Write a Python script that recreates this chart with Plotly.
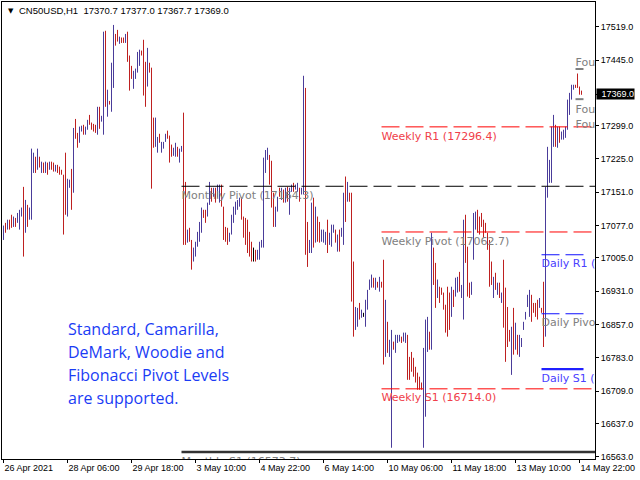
import numpy as np
import plotly.graph_objects as go

# ---------------- data ----------------
opens = [
    17045, 17083, 17068, 17090, 17101, 17074, 17094, 17083, 17068, 17097,
    17163, 17061, 17123, 17090, 17090, 17194, 17230, 17201, 17230, 17194,
    17217, 17194, 17217, 17201, 17219, 17217, 17197, 17212, 17208, 17201,
    17190, 17239, 17097, 17161, 17203, 17150, 17314, 17283, 17261, 17286,
    17301, 17279, 17290, 17323, 17306, 17303, 17301, 17279, 17341, 17308,
    17279, 17510, 17319, 17354, 17330, 17383, 17503, 17512, 17481, 17495,
    17495, 17483, 17508, 17455, 17432, 17381, 17403, 17417, 17432, 17466,
    17490, 17441, 17386, 17439, 17428, 17317, 17252, 17239, 17281, 17239,
    17248, 17263, 17288, 17277, 17257, 17232, 17230, 17252, 17217, 17241,
    17328, 17174, 17039, 17072, 17045, 16997, 17008, 17030, 17041, 17061,
    17112, 17112, 17097, 17123, 17161, 17141, 17161, 17139, 17128, 17168,
    17119, 17074, 17072, 17041, 17057, 17083, 17101, 17112, 17119, 17139,
    17097, 17094, 17090, 17063, 17041, 17012, 17023, 17001, 17001, 17028,
    17028, 17194, 17223, 17234, 17221, 17150, 17074, 17108, 17161, 17134,
    17157, 17128, 17163, 17101, 17152, 17172, 17157, 17152, 17161, 17146,
    17146, 17383, 17085, 17016, 17016, 17139, 17039, 17097, 17085, 17041,
    17039, 17034, 17090, 17034, 17030, 17061, 17068, 17019, 17068, 17052,
    17034, 17186, 17130, 17150, 17150, 16997, 16845, 16852, 16905, 16872,
    16878, 16852, 16890, 16934, 16939, 16961, 16934, 16952, 16930, 16952,
    17001, 16785, 16863, 16785, 16583, 16819, 16794, 16816, 16819, 16830,
    16819, 16816, 16834, 16785, 16796, 16783, 16763, 16750, 16741, 16728,
    16583, 16652, 16796, 16841, 16801, 17028, 16994, 16916, 16941, 16939,
    16928, 16901, 16941, 16928, 16874, 16934, 16919, 16928, 16974, 16916,
    16868, 17101, 17030, 16950, 16923, 17001, 17068, 17112, 17097, 17105,
    17090, 17083, 17061, 17045, 16997, 16916, 16972, 16923, 16950, 16905,
    17001, 16939, 16896, 16845, 16745, 16894, 16801, 16834, 16785, 16807,
    16845, 16868, 16896, 16874, 16923, 16905, 16905, 16912, 16894, 16894,
    16952, 16830, 17139, 17172, 17172, 17252, 17301, 17250, 17297, 17268,
    17268, 17272, 17290, 17323, 17357, 17379, 17390, 17415, 17386, 17370.7,
]
highs = [
    17077, 17083, 17090, 17090, 17101, 17097, 17094, 17105, 17112, 17117,
    17163, 17134, 17123, 17117, 17248, 17239, 17230, 17248, 17230, 17219,
    17217, 17219, 17217, 17219, 17219, 17217, 17212, 17212, 17208, 17201,
    17190, 17239, 17181, 17179, 17203, 17294, 17314, 17283, 17297, 17299,
    17301, 17297, 17312, 17323, 17306, 17303, 17301, 17341, 17341, 17321,
    17508, 17510, 17379, 17354, 17439, 17523, 17503, 17512, 17497, 17495,
    17495, 17503, 17508, 17455, 17432, 17421, 17426, 17463, 17468, 17466,
    17490, 17441, 17472, 17439, 17428, 17317, 17317, 17274, 17281, 17263,
    17263, 17281, 17288, 17277, 17257, 17250, 17261, 17252, 17248, 17254,
    17328, 17174, 17068, 17072, 17045, 17028, 17041, 17063, 17085, 17117,
    17112, 17112, 17128, 17174, 17161, 17161, 17161, 17168, 17168, 17168,
    17119, 17074, 17072, 17061, 17101, 17119, 17130, 17134, 17139, 17139,
    17097, 17094, 17090, 17063, 17041, 17028, 17023, 17023, 17041, 17045,
    17228, 17245, 17250, 17234, 17221, 17150, 17119, 17141, 17161, 17161,
    17157, 17161, 17163, 17161, 17168, 17172, 17168, 17172, 17161, 17161,
    17410, 17383, 17085, 17045, 17128, 17139, 17119, 17097, 17085, 17068,
    17068, 17063, 17090, 17061, 17079, 17079, 17068, 17057, 17068, 17072,
    17150, 17186, 17174, 17150, 17150, 16997, 16896, 16894, 16905, 16890,
    16883, 16912, 16934, 16957, 16968, 16961, 16961, 16952, 16963, 16952,
    17001, 16912, 16863, 16823, 16845, 16819, 16834, 16834, 16834, 16830,
    16839, 16839, 16834, 16785, 16796, 16783, 16763, 16750, 16741, 16728,
    16805, 16868, 16874, 16841, 17061, 17028, 16994, 16957, 16941, 16939,
    16928, 16901, 16941, 16928, 16941, 16934, 16961, 16963, 16974, 16945,
    17090, 17101, 17030, 16950, 16952, 17105, 17108, 17112, 17097, 17105,
    17090, 17083, 17061, 17045, 16997, 16963, 16972, 16950, 16950, 16928,
    17001, 16939, 16896, 16845, 16852, 16894, 16861, 16834, 16834, 16827,
    16863, 16885, 16923, 16934, 16923, 16905, 16905, 16912, 16916, 16894,
    16952, 17163, 17252, 17223, 17297, 17323, 17301, 17297, 17297, 17286,
    17290, 17297, 17357, 17372, 17390, 17390, 17390, 17415, 17386, 17377.0,
]
lows = [
    17045, 17061, 17068, 17068, 17072, 17074, 17074, 17083, 17068, 17097,
    17008, 17061, 17074, 17090, 17090, 17194, 17194, 17201, 17206, 17194,
    17194, 17194, 17190, 17201, 17201, 17197, 17197, 17194, 17190, 17190,
    17057, 17101, 17097, 17161, 17112, 17150, 17270, 17250, 17261, 17286,
    17279, 17279, 17290, 17301, 17290, 17286, 17283, 17279, 17292, 17308,
    17279, 17341, 17319, 17346, 17330, 17383, 17477, 17486, 17481, 17483,
    17483, 17483, 17441, 17377, 17403, 17381, 17403, 17417, 17432, 17455,
    17366, 17341, 17386, 17417, 17159, 17250, 17252, 17239, 17261, 17239,
    17248, 17263, 17270, 17217, 17230, 17232, 17230, 17230, 17217, 17241,
    17034, 17034, 17039, 17041, 16979, 16997, 17008, 17030, 17041, 17061,
    17094, 17083, 17097, 17123, 17130, 17141, 17128, 17139, 17128, 17119,
    17045, 17041, 17034, 17041, 17057, 17083, 17101, 17112, 17119, 17090,
    17050, 17034, 17016, 17008, 16997, 16997, 16997, 17001, 17001, 17028,
    17028, 17194, 17223, 17168, 17117, 17074, 17074, 17108, 17141, 17134,
    17128, 17128, 17130, 17101, 17152, 17152, 17157, 17152, 17130, 17146,
    17146, 17012, 16985, 17016, 17016, 17028, 17039, 17041, 17039, 17041,
    17039, 17034, 17016, 17034, 17030, 17061, 17039, 17019, 17019, 17052,
    17034, 17085, 17130, 17130, 16908, 16830, 16845, 16852, 16868, 16872,
    16874, 16852, 16890, 16934, 16939, 16939, 16934, 16939, 16930, 16939,
    16768, 16785, 16794, 16785, 16583, 16801, 16794, 16816, 16819, 16816,
    16819, 16816, 16734, 16734, 16752, 16741, 16728, 16712, 16712, 16712,
    16583, 16652, 16796, 16801, 16801, 16945, 16894, 16916, 16905, 16923,
    16890, 16839, 16830, 16845, 16874, 16896, 16919, 16928, 16930, 16916,
    16868, 16994, 16919, 16916, 16923, 17001, 17068, 17061, 17057, 17074,
    17050, 17061, 17023, 16941, 16945, 16916, 16934, 16923, 16916, 16905,
    16850, 16774, 16807, 16819, 16745, 16790, 16801, 16790, 16785, 16807,
    16845, 16868, 16896, 16874, 16863, 16883, 16874, 16868, 16894, 16883,
    16807, 16830, 17139, 17172, 17172, 17252, 17252, 17250, 17261, 17268,
    17268, 17272, 17290, 17323, 17357, 17379, 17383, 17383, 17368, 17367.7,
]
closes = [
    17077, 17061, 17090, 17068, 17072, 17097, 17074, 17105, 17112, 17117,
    17008, 17134, 17074, 17117, 17248, 17239, 17194, 17248, 17206, 17219,
    17194, 17219, 17190, 17219, 17201, 17197, 17212, 17194, 17190, 17190,
    17057, 17101, 17181, 17179, 17112, 17294, 17270, 17250, 17297, 17299,
    17279, 17297, 17312, 17301, 17290, 17286, 17283, 17341, 17292, 17321,
    17508, 17341, 17379, 17346, 17439, 17523, 17477, 17486, 17497, 17483,
    17483, 17503, 17441, 17377, 17403, 17421, 17426, 17463, 17468, 17455,
    17366, 17341, 17472, 17417, 17159, 17250, 17317, 17274, 17261, 17263,
    17263, 17281, 17270, 17217, 17230, 17250, 17261, 17230, 17248, 17254,
    17034, 17034, 17068, 17041, 16979, 17028, 17041, 17063, 17085, 17117,
    17094, 17083, 17128, 17174, 17130, 17161, 17128, 17168, 17168, 17119,
    17045, 17041, 17034, 17061, 17101, 17119, 17130, 17134, 17139, 17090,
    17050, 17034, 17016, 17008, 16997, 17012, 16997, 17023, 17041, 17045,
    17228, 17245, 17250, 17168, 17117, 17074, 17119, 17141, 17141, 17161,
    17128, 17161, 17130, 17161, 17168, 17152, 17168, 17172, 17130, 17161,
    17410, 17012, 16985, 17045, 17128, 17028, 17119, 17041, 17039, 17068,
    17068, 17063, 17016, 17061, 17079, 17079, 17039, 17057, 17019, 17072,
    17150, 17085, 17174, 17130, 16908, 16830, 16896, 16894, 16868, 16890,
    16878, 16912, 16934, 16957, 16968, 16939, 16961, 16939, 16963, 16939,
    16768, 16912, 16794, 16823, 16845, 16801, 16834, 16834, 16834, 16816,
    16839, 16839, 16734, 16734, 16752, 16741, 16728, 16712, 16712, 16712,
    16805, 16868, 16874, 16801, 17061, 16945, 16894, 16957, 16905, 16923,
    16890, 16839, 16830, 16845, 16941, 16896, 16961, 16963, 16930, 16945,
    17090, 16994, 16919, 16916, 16952, 17105, 17108, 17061, 17057, 17074,
    17050, 17061, 17023, 16941, 16945, 16963, 16934, 16950, 16916, 16928,
    16850, 16774, 16807, 16819, 16852, 16790, 16861, 16790, 16834, 16827,
    16863, 16885, 16923, 16934, 16863, 16883, 16874, 16868, 16916, 16883,
    16807, 17163, 17252, 17223, 17297, 17323, 17252, 17297, 17261, 17286,
    17290, 17297, 17357, 17372, 17390, 17390, 17383, 17383, 17368, 17369.0,
]

time_tick_bars = [0, 32, 64, 96, 128, 160, 192, 224, 256, 288]
time_tick_labels = ["26 Apr 2021", "28 Apr 06:00", "29 Apr 18:00", "3 May 10:00",
                    "4 May 22:00", "6 May 14:00", "10 May 06:00", "11 May 18:00",
                    "13 May 10:00", "14 May 22:00"]
price_ticks = [17519.0, 17445.0, 17369.0, 17299.0, 17225.0, 17151.0, 17077.0,
               17005.0, 16931.0, 16857.0, 16783.0, 16709.0, 16637.0, 16563.0]

symbol = "CN50USD,H1"
last_bar = [17370.7, 17377.0, 17367.7, 17369.0]

pivot_names = ["Monthly Pivot", "Monthly S1", "Weekly R1", "Weekly Pivot",
               "Weekly S1", "Daily R1", "Daily Pivot", "Daily S1"]
pivot_values = [17164.3, 16573.7, 17296.4, 17062.7, 16714.0, 17012.1, 16880.9, 16757.9]
pivot_from_bar = [89, 89, 189, 189, 189, 269, 269, 269]
pivot_to_bar = [300, 300, 300, 300, 300, 290, 290, 290]

fourh_names = ["Four-hour R1", "Four-hour Pivot", "Four-hour S1"]
fourh_label_values = [17460.0, 17356.0, 17322.0]
fourh_line_values = [17425.0, 17358.0]
fourh_from_bar, fourh_to_bar = 286, 290

info_lines = ["Standard, Camarilla,", "DeMark, Woodie and",
              "Fibonacci Pivot Levels", "are supported."]

# ---------------- styles / layout ----------------
W, H = 640, 480
ML, MR, MT, MB = 2, 45, 2, 21
PW, PH = W - ML - MR, H - MT - MB
X_RANGE = [-0.75, 295.75]
Y_RANGE = [16558.0, 17574.0]
LABEL_DROP = 22.0

UP_COLOR = "#4A3C9A"
DOWN_COLOR = "#BE2020"
AXFONT = dict(family="Liberation Sans", size=9, color="black")
LBLFONT = "DejaVu Sans"

DASH = "18px,6px"
line_style = {
    "Monthly Pivot": dict(color="#000000", dash=DASH, width=1),
    "Monthly S1": dict(color="#333333", dash="solid", width=2.5),
    "Weekly R1": dict(color="#FF0000", dash=DASH, width=1),
    "Weekly Pivot": dict(color="#FF0000", dash=DASH, width=1),
    "Weekly S1": dict(color="#FF0000", dash=DASH, width=1),
    "Daily R1": dict(color="#1010FF", dash=DASH, width=1.2),
    "Daily Pivot": dict(color="#1010FF", dash=DASH, width=1.2),
    "Daily S1": dict(color="#2020FF", dash="solid", width=2.2),
}
label_color = {
    "Monthly Pivot": "#808080", "Monthly S1": "#808080",
    "Weekly R1": "#F0404A", "Weekly Pivot": "#808080", "Weekly S1": "#F0404A",
    "Daily R1": "#4A40FF", "Daily Pivot": "#808080", "Daily S1": "#4A40FF",
}


def paper_x(px):
    return (px - ML) / PW


def paper_y(py):
    return (H - MB - py) / PH


x = np.arange(len(highs))
o = np.array(opens, dtype=float)
h = np.array(highs, dtype=float)
lo = np.array(lows, dtype=float)
c = np.array(closes, dtype=float)
doji = o == c

fig = go.Figure()
fig.add_trace(go.Ohlc(
    x=x[~doji], open=o[~doji], high=h[~doji], low=lo[~doji], close=c[~doji],
    increasing=dict(line=dict(color=UP_COLOR, width=1)),
    decreasing=dict(line=dict(color=DOWN_COLOR, width=1)),
    tickwidth=0, hoverinfo="skip", showlegend=False))
fig.add_trace(go.Ohlc(
    x=x[doji], open=o[doji], high=h[doji], low=lo[doji], close=c[doji],
    increasing=dict(line=dict(color="black", width=1)),
    decreasing=dict(line=dict(color="black", width=1)),
    tickwidth=0, hoverinfo="skip", showlegend=False))

# pivot lines and labels
for name, val, b0, b1 in zip(pivot_names, pivot_values, pivot_from_bar, pivot_to_bar):
    fig.add_trace(go.Scatter(x=[b0, b1], y=[val, val], mode="lines",
                             line=line_style[name], hoverinfo="skip",
                             showlegend=False, cliponaxis=True))
for name, val, b0 in zip(pivot_names, pivot_values, pivot_from_bar):
    fig.add_trace(go.Scatter(x=[b0], y=[val - LABEL_DROP], mode="text",
                             text=[f"{name} ({val:.1f})"], textposition="middle right",
                             textfont=dict(family=LBLFONT, size=11, color=label_color[name]),
                             hoverinfo="skip", showlegend=False, cliponaxis=True))

for val in fourh_line_values:
    fig.add_trace(go.Scatter(x=[fourh_from_bar, fourh_to_bar], y=[val, val], mode="lines",
                             line=dict(color="#808080", width=2), hoverinfo="skip",
                             showlegend=False, cliponaxis=True))
for name, val in zip(fourh_names, fourh_label_values):
    fig.add_trace(go.Scatter(x=[fourh_from_bar], y=[val - LABEL_DROP], mode="text",
                             text=[f"{name} ({val:.1f})"], textposition="middle right",
                             textfont=dict(family=LBLFONT, size=11, color="#808080"),
                             hoverinfo="skip", showlegend=False, cliponaxis=True))

annotations = []
# header
annotations.append(dict(x=paper_x(6), y=paper_y(10.5), xref="paper", yref="paper",
                        xanchor="left", yanchor="middle", showarrow=False, text="▼",
                        font=dict(family="DejaVu Sans", size=7, color="black")))
annotations.append(dict(x=paper_x(17), y=paper_y(10.5), xref="paper", yref="paper",
                        xanchor="left", yanchor="middle", showarrow=False,
                        text=symbol + "\u00a0\u00a0" + " ".join(f"{v:.1f}" for v in last_bar),
                        font=dict(family="Liberation Sans", size=9.5, color="black")))
# info text
for k, line in enumerate(info_lines):
    annotations.append(dict(x=paper_x(66), y=paper_y(328.5 + 23 * k), xref="paper", yref="paper",
                            xanchor="left", yanchor="middle", showarrow=False, text=line,
                            font=dict(family="Open Sans", size=16, color="#1A3CF5")))
# current price box
annotations.append(dict(x=1, y=last_bar[3], xref="paper", yref="y", xanchor="left",
                        yanchor="middle", showarrow=False, text=f"{last_bar[3]:.1f}",
                        bgcolor="black", font=dict(family="Liberation Sans", size=9, color="white"),
                        borderpad=0, width=37, height=10, align="right", xshift=1))

price_text = [f"{v:.1f}" if v != last_bar[3] else "" for v in price_ticks]

fig.update_layout(
    width=W, height=H, template="none",
    margin=dict(l=ML, r=MR, t=MT, b=MB, pad=0),
    paper_bgcolor="white", plot_bgcolor="white",
    showlegend=False, annotations=annotations,
    xaxis=dict(range=X_RANGE, tickvals=time_tick_bars, ticktext=time_tick_labels,
               ticks="outside", ticklen=3, tickcolor="black", tickwidth=1,
               ticklabelposition="outside right", tickfont=AXFONT,
               showline=True, linecolor="black", linewidth=1, mirror=True,
               showgrid=False, zeroline=False, rangeslider=dict(visible=False),
               automargin=False, fixedrange=True),
    yaxis=dict(range=Y_RANGE, side="right", tickvals=price_ticks, ticktext=price_text,
               ticks="outside", ticklen=3, tickcolor="black", tickwidth=1,
               tickfont=AXFONT, showline=True, linecolor="black", linewidth=1,
               mirror=True, showgrid=False, zeroline=False, automargin=False,
               fixedrange=True),
)

fig.write_html("out.html", config={"displayModeBar": False},
               post_script="document.body.style.margin='0px';document.body.style.overflow='hidden';")
